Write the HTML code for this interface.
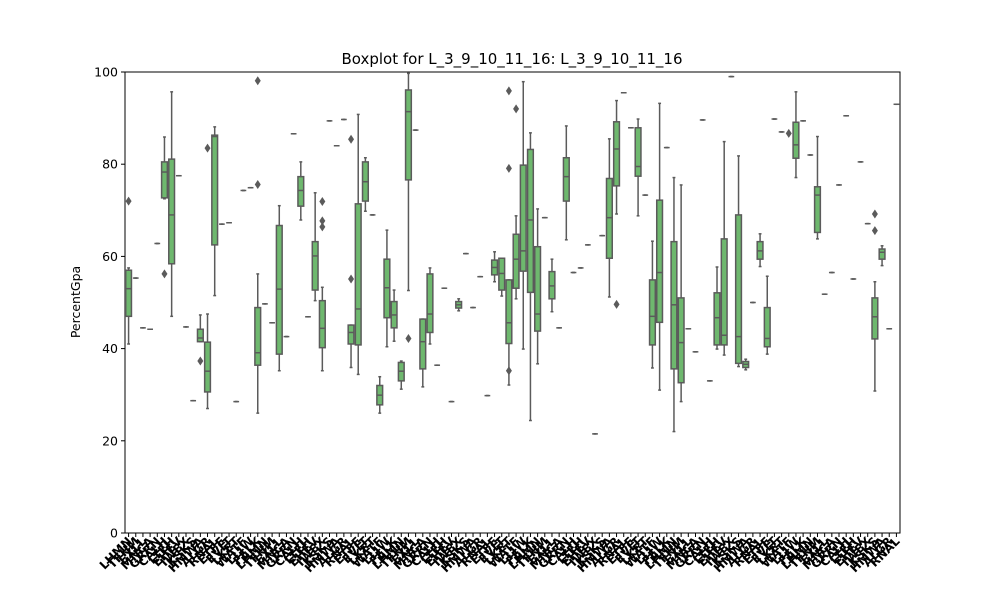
<!DOCTYPE html>
<html><head><meta charset="utf-8"><style>
body{margin:0;background:#fff;}
svg{display:block;font-family:"DejaVu Sans","Liberation Sans",sans-serif;}
</style></head><body>
<svg id="chart" width="1000" height="600" viewBox="0 0 1000 600">
<rect x="0" y="0" width="1000" height="600" fill="#fff"/>
<text x="512" y="64" font-size="15" text-anchor="middle">Boxplot for L_3_9_10_11_16: L_3_9_10_11_16</text>
<text transform="translate(80,302) rotate(-90)" font-size="12.5" text-anchor="middle">PercentGpa</text>
<text x="512" y="609" font-size="12.5" text-anchor="middle">X</text>
<g id="plot"></g>
</svg>
<script>
// per category: low whisker, q1, median, q3, high whisker (null = no box)
const whiskerLow=[41,55.3,44.5,44.2,62.8,72.5,47,77.5,44.7,28.7,41.5,27,51.5,67,67.3,28.5,74.3,74.9,26,49.7,45.6,35.2,42.6,86.6,67.9,46.9,50.4,35.2,89.4,84,89.7,35.9,34.4,69.8,69,26,40.4,41.6,31.2,52.6,87.4,31.7,41,36.4,53.1,28.5,48.2,60.6,48.9,55.6,29.8,54.5,51.4,32.1,50.8,39.9,24.4,36.7,68.4,48,44.5,63.6,56.5,57.5,62.5,21.5,64.5,51.2,69.2,95.5,87.9,68.8,73.3,35.8,31,83.6,22,28.5,44.3,39.3,89.6,33,39.9,38.6,99,36.1,35.4,50,57.8,38.8,89.8,87,null,77.1,89.4,82,63.8,51.8,56.5,75.5,90.5,55.1,80.5,67.1,30.8,58,44.3,93];
const q1s=[47,55.3,44.5,44.2,62.8,72.7,58.4,77.5,44.7,28.7,41.5,30.6,62.5,67,67.3,28.5,74.3,74.9,36.4,49.7,45.6,38.8,42.6,86.6,70.9,46.9,52.7,40.2,89.4,84,89.7,41,40.8,72,69,27.8,46.7,44.5,33,76.6,87.4,35.6,43.5,36.4,53.1,28.5,48.8,60.6,48.9,55.6,29.8,56,52.7,41.1,53.1,56.8,52.2,43.8,68.4,50.8,44.5,72,56.5,57.5,62.5,21.5,64.5,59.6,75.3,95.5,87.9,77.4,73.3,40.8,45.7,83.6,35.6,32.6,44.3,39.3,89.6,33,40.8,40.8,99,36.8,35.9,50,59.4,40.4,89.8,87,null,81.3,89.4,82,65.2,51.8,56.5,75.5,90.5,55.1,80.5,67.1,42.1,59.4,44.3,93];
const medians=[53,55.3,44.5,44.2,62.8,78.3,69,77.5,44.7,28.7,42.3,35.1,86,67,67.3,28.5,74.3,74.9,39.1,49.7,45.6,52.9,42.6,86.6,74.3,46.9,60.1,44.4,89.4,84,89.7,43.5,48.6,76.2,69,29.9,53.2,47.3,35.1,91.4,87.4,41.5,47.5,36.4,53.1,28.5,49.5,60.6,48.9,55.6,29.8,57.6,56.3,45.6,59.4,61.2,67.9,47.5,68.4,53.6,44.5,77.3,56.5,57.5,62.5,21.5,64.5,68.4,83.3,95.5,87.9,79.5,73.3,47,56.5,83.6,49.5,41.3,44.3,39.3,89.6,33,46.7,42.9,99,42.6,36.6,50,61.2,42.2,89.8,87,null,84.2,89.4,82,73.3,51.8,56.5,75.5,90.5,55.1,80.5,67.1,46.9,60.9,44.3,93];
const q3s=[57,55.3,44.5,44.2,62.8,80.5,81.1,77.5,44.7,28.7,44.2,41.4,86.3,67,67.3,28.5,74.3,74.9,48.9,49.7,45.6,66.7,42.6,86.6,77.3,46.9,63.2,50.4,89.4,84,89.7,45.1,71.4,80.5,69,32,59.4,50.2,37,96.1,87.4,46.4,56.2,36.4,53.1,28.5,50.2,60.6,48.9,55.6,29.8,59.2,59.6,54.9,64.8,79.8,83.2,62.1,68.4,56.7,44.5,81.4,56.5,57.5,62.5,21.5,64.5,76.9,89.2,95.5,87.9,87.9,73.3,54.9,72.2,83.6,63.2,51,44.3,39.3,89.6,33,52.1,63.8,99,69,37.2,50,63.2,48.9,89.8,87,null,89.1,89.4,82,75.1,51.8,56.5,75.5,90.5,55.1,80.5,67.1,51,61.6,44.3,93];
const whiskerHigh=[57.5,55.3,44.5,44.2,62.8,85.9,95.7,77.5,44.7,28.7,47.3,47.5,88.1,67,67.3,28.5,74.3,74.9,56.2,49.7,45.6,71,42.6,86.6,80.5,46.9,73.8,53.3,89.4,84,89.7,45.1,90.8,81.4,69,33.9,65.7,52.7,37.3,99.7,87.4,46.4,57.5,36.4,53.1,28.5,50.8,60.6,48.9,55.6,29.8,61,59.6,54.9,68.8,97.9,86.8,70.3,68.4,59.4,44.5,88.3,56.5,57.5,62.5,21.5,64.5,85.5,93.8,95.5,87.9,89.8,73.3,63.3,93.2,83.6,77.1,75.5,44.3,39.3,89.6,33,57.7,84.9,99,81.8,37.7,50,64.9,55.7,89.8,87,null,95.7,89.4,82,86,51.8,56.5,75.5,90.5,55.1,80.5,67.1,54.5,62.3,44.3,93];
const outlierCat=[0,5,10,11,18,18,27,27,27,31,31,39,53,53,53,54,68,92,104,104];
const outlierVal=[72,56.2,37.3,83.5,98.1,75.6,71.9,67.7,66.4,85.4,55.1,42.2,95.9,79.1,35.2,92,49.6,86.7,69.2,65.6];
const yTicks=[0,20,40,60,80,100];
const syl=["LH","TF","EX","MN","GR","CA","LT","EH","IW","KS","HM","AL","RN","ET","EV","LK","WA","LL","FE"];
const categories=[];
for(let i=0;i<108;i++){categories.push(syl[i%19]+syl[(i*7+3)%19]);}

const NS="http://www.w3.org/2000/svg";
const X0=125,X1=900,Y0=533,Y1=72;
const bw=(X1-X0)/categories.length;
const xs=i=>X0+(i+0.5)*bw;
const ys=v=>Y0-(v/100)*(Y0-Y1);
const plot=document.getElementById('plot');
function mk(tag,attrs,parent){const e=document.createElementNS(NS,tag);for(const k in attrs)e.setAttribute(k,attrs[k]);(parent||plot).appendChild(e);return e;}
const EDGE="#5b5b5b",FILL="#6eb86e";
const frame=mk('rect',{x:X0,y:Y1,width:X1-X0,height:Y0-Y1,fill:'none',stroke:'#000','stroke-width':1});


yTicks.forEach(t=>{
  const y=ys(t);
  const tk=mk('line',{x1:X0-4,x2:X0,y1:y,y2:y,stroke:'#000'});
  
  
  const tl=mk('text',{x:X0-7,y:y+4.5,'font-size':12.5,'text-anchor':'end'});
  tl.textContent=t;
  
  
});
categories.forEach((c,i)=>{
  const x=xs(i);
  const tk=mk('line',{x1:x,x2:x,y1:Y0,y2:Y0+4,stroke:'#000'});
  
  
  const tl=mk('text',{transform:`translate(${x+4},${Y0+9}) rotate(-45)`,'font-size':12,'font-weight':'bold','text-anchor':'end'});
  tl.textContent=c;
  
  
  if(medians[i]===null)return;
  const g=mk('g',{});
  
  
  const hw=bw*0.4;
  mk('line',{x1:x,x2:x,y1:ys(whiskerHigh[i]),y2:ys(q3s[i]),stroke:EDGE,'stroke-width':1.5},g);
  mk('line',{x1:x,x2:x,y1:ys(q1s[i]),y2:ys(whiskerLow[i]),stroke:EDGE,'stroke-width':1.5},g);
  mk('line',{x1:x-hw/2,x2:x+hw/2,y1:ys(whiskerHigh[i]),y2:ys(whiskerHigh[i]),stroke:EDGE,'stroke-width':1.5},g);
  mk('line',{x1:x-hw/2,x2:x+hw/2,y1:ys(whiskerLow[i]),y2:ys(whiskerLow[i]),stroke:EDGE,'stroke-width':1.5},g);
  mk('rect',{x:x-hw,y:ys(q3s[i]),width:2*hw,height:Math.max(0,ys(q1s[i])-ys(q3s[i])),fill:FILL,stroke:EDGE,'stroke-width':1.5},g);
  mk('line',{x1:x-hw,x2:x+hw,y1:ys(medians[i]),y2:ys(medians[i]),stroke:EDGE,'stroke-width':1.5},g);
});
outlierCat.forEach((c,k)=>{
  const x=xs(c),y=ys(outlierVal[k]);
  const d=mk('path',{d:`M${x},${y-4.5}L${x+3},${y}L${x},${y+4.5}L${x-3},${y}Z`,fill:EDGE});
  
  
});
</script>
</body></html>
